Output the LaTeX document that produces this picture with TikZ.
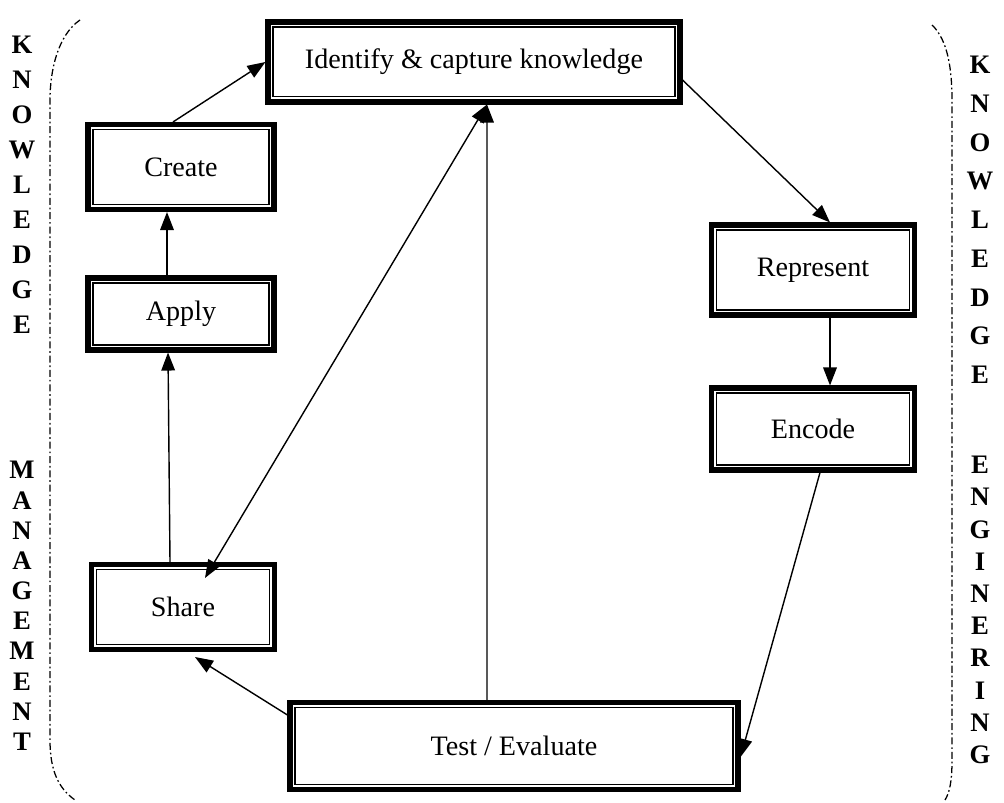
\documentclass[tikz,border=0pt]{standalone}
\usepackage{fontspec}
\setmainfont{Liberation Serif}
\usetikzlibrary{positioning,arrows.meta}

\begin{document}
\begin{tikzpicture}[x=0.25mm,y=-0.25mm,
	stagebox/.style={draw,line width=3.6pt,inner sep=0pt,font=\fontsize{20}{23}\selectfont,
		path picture={\draw[line width=0.8pt] ([shift={(3.6pt,3.6pt)}]path picture bounding box.south west) rectangle ([shift={(-3.6pt,-3.6pt)}]path picture bounding box.north east);}},
	sideletter/.style={font=\fontsize{19}{19}\selectfont\bfseries,inner sep=0pt},
	flow/.style={-{Triangle[length=4.5mm,width=3.4mm]},line width=1pt},
	bracket/.style={line width=0.9pt,dash pattern=on 5pt off 2pt on 1.2pt off 2pt}]
		\useasboundingbox (0,0) rectangle (1004,803);

		\node[stagebox,minimum width=103mm,minimum height=20mm]		(identify)	at (474,62)		{Identify \& capture knowledge};
		\node[stagebox,minimum width=46.5mm,minimum height=21.25mm]	(create)	at (181,167)	{Create};
		\node[stagebox,minimum width=46.5mm,minimum height=18mm]	(apply)		at (181,314)	{Apply};
		\node[stagebox,minimum width=45.75mm,minimum height=21.25mm]	(share)		at (183,607)	{Share};
		\node[stagebox,minimum width=50.75mm,minimum height=22.5mm]	(represent)	at (813,270)	{Represent};
		\node[stagebox,minimum width=50.75mm,minimum height=20.5mm]	(encode)	at (813,429)	{Encode};
		\node[stagebox,minimum width=112mm,minimum height=21.75mm]	(test)		at (514,746)	{Test / Evaluate};

		\draw[flow] ([xshift=-2mm]create.north) -- (identify.west);
		\draw[flow] ([xshift=-3.5mm]apply.north) -- ([xshift=-3.5mm]create.south);
		\draw[flow] ([xshift=-3.25mm]share.north) -- ([xshift=-3.25mm]apply.south);
		\draw[flow] ([yshift=7.75mm]test.west) -- ([xshift=3mm,yshift=-1.25mm]share.south);
		\draw[flow,{Triangle[length=4.5mm,width=3.4mm]}-{Triangle[length=4.5mm,width=3.4mm]}] ([xshift=3.25mm]identify.south) -- ([xshift=5.5mm,yshift=-4mm]share.north);
		\draw[flow] ([xshift=-6.75mm]test.north) -- ([xshift=3.25mm]identify.south);
		\draw[flow] ([yshift=-4.5mm]identify.east) -- ([xshift=4.25mm]represent.north);
		\draw[flow] ([xshift=4.25mm]represent.south) -- ([xshift=4.25mm]encode.north);
		\draw[flow] ([xshift=1.75mm]encode.south) -- ([yshift=-2.75mm]test.east);

		\draw[bracket] (80,20) .. controls (58,35) and (50,70) .. (50,100) -- (50,740) .. controls (50,770) and (58,788) .. (75,800);
		\draw[bracket] (932,25) .. controls (948,40) and (952,70) .. (952,100) -- (952,760) .. controls (952,780) and (950,792) .. (945,800);

		\foreach \ch [count=\i] in {K,N,O,W,L,E,D,G,E}
			\node[sideletter] (lk\i) at (22,{45+(\i-1)*35}) {\ch};
		\foreach \ch [count=\i] in {M,A,N,A,G,E,M,E,N,T}
			\node[sideletter] (lm\i) at (22,{470+(\i-1)*30.2}) {\ch};
		\foreach \ch [count=\i] in {K,N,O,W,L,E,D,G,E}
			\node[sideletter] (rk\i) at (980,{65+(\i-1)*38.75}) {\ch};
		\foreach \ch [count=\i] in {E,N,G,I,N,E,R,I,N,G}
			\node[sideletter] (re\i) at (980,{465+(\i-1)*32.2}) {\ch};
	\end{tikzpicture}
\end{document}
